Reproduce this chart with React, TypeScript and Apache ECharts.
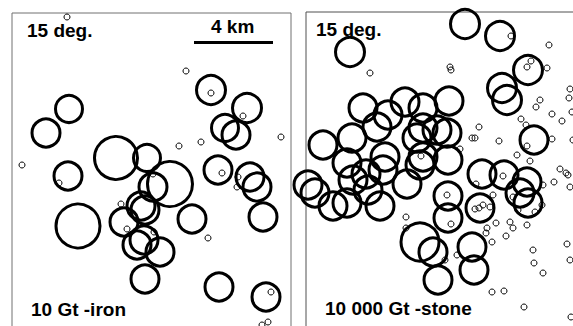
import React, { useEffect, useRef } from "react";
import * as echarts from "echarts";

// Crater rings, map units (1 unit ≈ 50 m) relative to each panel's top-left corner: [x, y, outer diameter]
const IRON_BIG: [number, number, number][] = [
  [57, 96, 30], [34, 120, 31], [104, 145, 46], [135, 145, 30], [158, 171, 48],
  [141, 174, 31], [66, 213, 47], [199, 77, 32], [235, 95, 32], [213, 115, 30],
  [224, 122, 31], [206, 157, 31], [238, 164, 31], [245, 174, 31], [251, 204, 31],
  [180, 206, 31], [112, 209, 31], [129, 193, 31], [133, 197, 31], [56, 163, 31],
  [125, 232, 31], [132, 227, 31], [148, 239, 31], [133, 266, 31], [207, 274, 31],
  [254, 284, 31],
];
const IRON_SMALL: [number, number][] = [
  [55, 4], [174, 58], [199, 80], [231, 103], [269, 124], [189, 129], [167, 133],
  [10, 152], [47, 170], [141, 161], [210, 160], [226, 164], [225, 174], [109, 191],
  [115, 216], [196, 225], [142, 219], [259, 279], [256, 309], [250, 312],
];
const STONE_BIG: [number, number, number][] = [
  [159, 12, 32], [194, 24, 32], [44, 40, 32], [222, 58, 32], [196, 76, 32],
  [201, 88, 32], [228, 128, 31], [57, 96, 31], [82, 103, 31], [99, 90, 31],
  [117, 96, 31], [143, 89, 31], [71, 115, 31], [46, 126, 31], [17, 133, 31],
  [117, 116, 31], [131, 118, 31], [141, 121, 31], [111, 126, 31], [79, 145, 31],
  [41, 151, 31], [117, 145, 31], [142, 148, 31], [176, 162, 31], [198, 163, 31],
  [221, 170, 31], [2, 173, 31], [9, 181, 31], [27, 194, 31], [47, 168, 31],
  [60, 162, 31], [62, 178, 31], [74, 194, 31], [41, 191, 31], [77, 158, 31],
  [101, 172, 31], [142, 184, 31], [174, 196, 31], [214, 181, 31], [222, 191, 31],
  [142, 206, 31], [114, 230, 41], [127, 240, 31], [132, 268, 31], [166, 235, 31],
  [168, 258, 31], [114, 153, 31],
];
const STONE_SMALL: [number, number][] = [
  [64, 61], [144, 55], [145, 58], [205, 24], [243, 33], [221, 55], [225, 49],
  [241, 56], [264, 77], [263, 86], [234, 88], [230, 95], [246, 102], [256, 109],
  [215, 107], [220, 113], [173, 115], [166, 126], [169, 126], [193, 129], [154, 137],
  [221, 134], [246, 127], [211, 143], [224, 149], [266, 100], [267, 128], [254, 157],
  [262, 163], [260, 161], [248, 170], [237, 173], [264, 175], [170, 172], [197, 164],
  [141, 183], [187, 183], [207, 185], [169, 197], [173, 196], [177, 193], [184, 195],
  [212, 198], [229, 200], [236, 193], [204, 210], [190, 211], [181, 216], [180, 221],
  [200, 224], [207, 216], [221, 213], [145, 212], [186, 230], [100, 205], [100, 216],
  [139, 248], [151, 243], [186, 280], [198, 279], [218, 295], [227, 238], [228, 251],
  [237, 261], [261, 232], [264, 248], [265, 305], [115, 144],
];

const PANEL_TITLES = ["15 deg.", "15 deg."];
const PANEL_LABELS = ["10 Gt -iron", "10 000 Gt -stone"];
const SCALE_LABEL = "4 km";

const FONT = "bold 19px 'Liberation Sans', Arial, sans-serif";

export default function App() {
  const ref = useRef<HTMLDivElement>(null);
  useEffect(() => {
    if (!ref.current) return;
    const chart = echarts.init(ref.current, undefined, { renderer: "svg" });
    const ringStyle = { color: "rgba(0,0,0,0)", borderColor: "#000", borderWidth: 3, opacity: 1 };
    const smallStyle = { color: "rgba(0,0,0,0)", borderColor: "#000", borderWidth: 1, opacity: 1 };
    const big = (gi: number, data: [number, number, number][]) => ({
      type: "scatter",
      xAxisIndex: gi,
      yAxisIndex: gi,
      data,
      symbol: "circle",
      symbolSize: (v: number[]) => v[2] - 3,
      itemStyle: ringStyle,
      silent: true,
      clip: false,
    });
    const small = (gi: number, data: [number, number][]) => ({
      type: "scatter",
      xAxisIndex: gi,
      yAxisIndex: gi,
      data,
      symbol: "circle",
      symbolSize: 6,
      itemStyle: smallStyle,
      silent: true,
      clip: false,
    });
    chart.setOption({
      animation: false,
      backgroundColor: "#fff",
      grid: [
        { left: 12, top: 13, width: 279, height: 340, show: true, borderColor: "#707070", borderWidth: 1, backgroundColor: "transparent" },
        { left: 306, top: 12, width: 300, height: 340, show: true, borderColor: "#505050", borderWidth: 1, backgroundColor: "transparent" },
      ],
      xAxis: [
        { gridIndex: 0, type: "value", min: 0, max: 279, show: false },
        { gridIndex: 1, type: "value", min: 0, max: 300, show: false },
      ],
      yAxis: [
        { gridIndex: 0, type: "value", min: 0, max: 340, inverse: true, show: false },
        { gridIndex: 1, type: "value", min: 0, max: 340, inverse: true, show: false },
      ],
      series: [
        big(0, IRON_BIG),
        small(0, IRON_SMALL),
        big(1, STONE_BIG),
        small(1, STONE_SMALL),
      ],
      graphic: [
        { type: "text", left: 27, top: 21, style: { text: PANEL_TITLES[0], font: FONT, fill: "#000" } },
        { type: "text", left: 316, top: 20, style: { text: PANEL_TITLES[1], font: FONT, fill: "#000" } },
        { type: "text", left: 211, top: 17, style: { text: SCALE_LABEL, font: FONT, fill: "#000" } },
        { type: "line", shape: { x1: 194, y1: 42.5, x2: 273, y2: 42.5 }, style: { stroke: "#000", lineWidth: 3 } },
        { type: "text", left: 31, top: 300, style: { text: PANEL_LABELS[0], font: FONT, fill: "#000" } },
        { type: "text", left: 325, top: 299, style: { text: PANEL_LABELS[1], font: FONT, fill: "#000" } },
      ],
    });
    return () => chart.dispose();
  }, []);
  return (
    <div
      ref={ref}
      style={{ position: "fixed", left: 0, top: 0, width: 620, height: 370 }}
    />
  );
}
